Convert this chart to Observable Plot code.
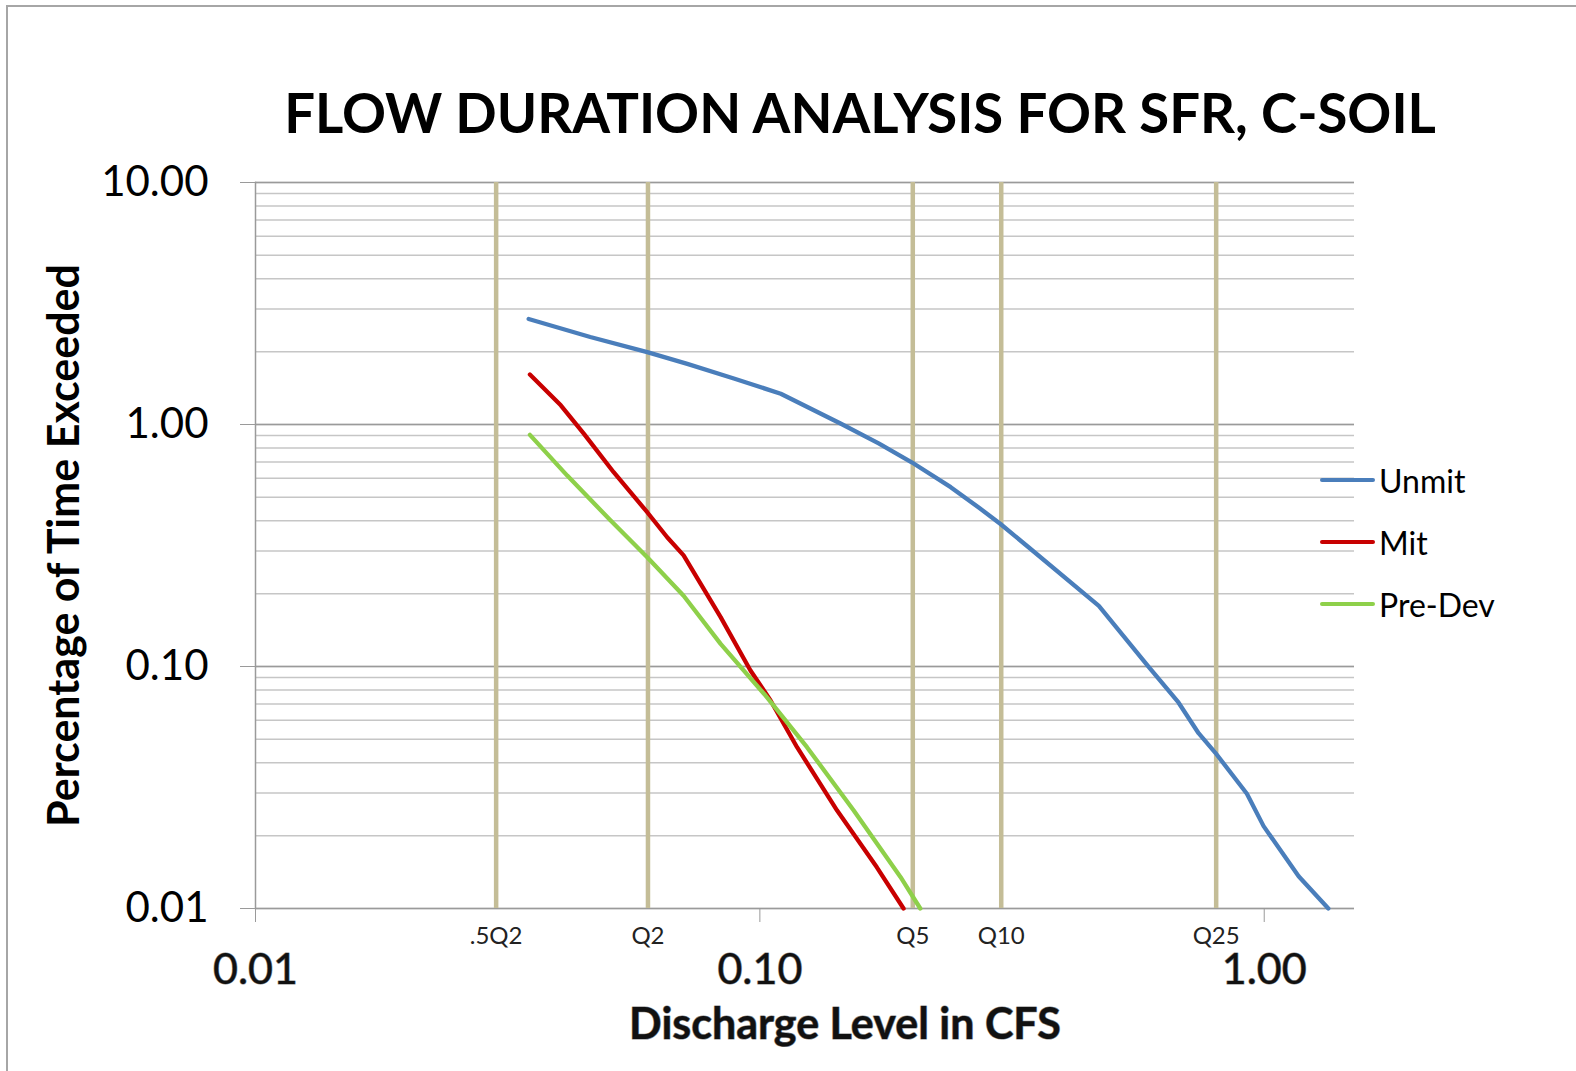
<!DOCTYPE html>
<html><head><meta charset="utf-8">
<script src="https://cdn.jsdelivr.net/npm/d3@7"></script>
<script src="https://cdn.jsdelivr.net/npm/@observablehq/plot@0.6"></script>
<style>
html,body{margin:0;padding:0;background:#fff;}
body{width:1576px;height:1071px;position:relative;overflow:hidden;font-family:Lato,sans-serif;}
#bt{position:absolute;left:6px;top:5px;right:0;height:2px;background:#a6a6a6;}
#bl{position:absolute;left:6px;top:5px;bottom:0;width:2px;background:#a6a6a6;}
#title{position:absolute;top:84px;left:860px;transform:translateX(-50%);white-space:nowrap;font:700 54.5px/56px Lato,sans-serif;color:#000;}
#chart{position:absolute;left:0;top:150px;}
#legend{position:absolute;left:1320px;top:449px;}
.row{display:flex;align-items:center;height:62px;}
.sw{width:55px;height:4.5px;border-radius:2px;margin-right:4px;}
.lab{font:400 32px Lato,sans-serif;color:#000;white-space:nowrap;}
</style></head>
<body>
<div id="bt"></div><div id="bl"></div>
<div id="title"></div>
<div id="chart"></div>
<div id="legend"></div>
<script>
const titleText = "FLOW DURATION ANALYSIS FOR SFR, C-SOIL";
const xLabel = "Discharge Level in CFS";
const yLabel = "Percentage of Time Exceeded";
const seriesNames = ["Unmit", "Mit", "Pre-Dev"];
const seriesColors = ["#4A7EBB", "#C80000", "#8ED04A"];

const unmitX = [0.0348, 0.0461, 0.0598, 0.0718, 0.0888, 0.110, 0.1445, 0.172, 0.200, 0.239, 0.272, 0.300, 0.341, 0.470, 0.590, 0.676, 0.741, 0.800, 0.924, 0.997, 1.17, 1.34];
const unmitY = [2.73, 2.30, 1.99, 1.78, 1.55, 1.34, 1.01, 0.835, 0.698, 0.551, 0.453, 0.388, 0.311, 0.178, 0.0997, 0.071, 0.053, 0.044, 0.0298, 0.0219, 0.0136, 0.0100];

const mitX = [0.035, 0.0403, 0.0448, 0.0513, 0.0598, 0.0655, 0.0706, 0.0836, 0.0958, 0.105, 0.1185, 0.1423, 0.1706, 0.1927];
const mitY = [1.61, 1.20, 0.915, 0.635, 0.434, 0.342, 0.288, 0.160, 0.0962, 0.0724, 0.0464, 0.0254, 0.0148, 0.0100];

const preDevX = [0.035, 0.0415, 0.0506, 0.0598, 0.0706, 0.0836, 0.102, 0.124, 0.1535, 0.190, 0.208];
const preDevY = [0.906, 0.615, 0.401, 0.283, 0.196, 0.124, 0.077, 0.0464, 0.0254, 0.0135, 0.0100];

const qLabels = [".5Q2", "Q2", "Q5", "Q10", "Q25"];
const qValues = [0.030, 0.060, 0.201, 0.301, 0.803];

const xTicks = [0.01, 0.1, 1];
const yTicks = [0.01, 0.1, 1, 10];

const rows = [];
function addSeries(name, xs, ys) { xs.forEach((x, i) => rows.push({series: name, x, y: ys[i]})); }
addSeries("Unmit", unmitX, unmitY);
addSeries("Mit", mitX, mitY);
addSeries("Pre-Dev", preDevX, preDevY);

document.getElementById("title").textContent = titleText;

const fmt = d3.format(".2f");
const chart = Plot.plot({
  width: 1576, height: 921,
  marginTop: 32, marginBottom: 163, marginLeft: 255, marginRight: 222,
  style: {fontFamily: "Lato, sans-serif", fontSize: "42px", background: "transparent", overflow: "visible", color: "#000"},
  x: {type: "log", domain: [0.01, 1.51], label: null},
  y: {type: "log", domain: [0.01, 10], label: null},
  color: {domain: seriesNames, range: seriesColors},
  marks: [
    Plot.gridY({stroke: "#c6c6c6", strokeOpacity: 1, strokeWidth: 1.5}),
    Plot.ruleY(yTicks, {stroke: "#9a9a9a", strokeWidth: 1.5}),
    Plot.frame({anchor: "left", stroke: "#9a9a9a", strokeWidth: 1.5}),
    Plot.ruleX(qValues, {stroke: "#C4BD97", strokeWidth: 4.5}),
    Plot.line(rows, {x: "x", y: "y", z: "series", stroke: "series", strokeWidth: 4.3, strokeLinejoin: "round", strokeLinecap: "round"}),
    Plot.axisY({ticks: yTicks, tickFormat: fmt, tickSize: 15, tickPadding: 32, stroke: "#9a9a9a", fill: "#000", fontSize: 42, label: null}),
    Plot.axisX({ticks: xTicks, tickFormat: () => "", tickSize: 14, stroke: "#9a9a9a", label: null}),
    Plot.text(xTicks, {x: d => d, frameAnchor: "bottom", lineAnchor: "middle", dy: 62, text: d => fmt(d), fontSize: 43, fill: "#111", stroke: "#8a8a8a", strokeWidth: 1.2, paintOrder: "stroke"}),
    Plot.text(qValues, {x: d => d, frameAnchor: "bottom", lineAnchor: "middle", dy: 28, text: (d, i) => qLabels[i], fontSize: 24, fill: "#222"}),
    Plot.text([xLabel], {frameAnchor: "bottom", lineAnchor: "middle", textAnchor: "middle", dx: 40, dy: 117, text: d => d, fontSize: 43, fontWeight: "bold", fill: "#111", stroke: "#8a8a8a", strokeWidth: 1.2, paintOrder: "stroke"}),
    Plot.text([yLabel], {frameAnchor: "left", lineAnchor: "middle", textAnchor: "middle", dx: -190, rotate: -90, text: d => d, fontSize: 43, fontWeight: "bold", fill: "#000"})
  ]
});
document.getElementById("chart").appendChild(chart);

const legend = document.getElementById("legend");
seriesNames.forEach((name, i) => {
  const row = document.createElement("div");
  row.className = "row";
  const sw = document.createElement("div");
  sw.className = "sw";
  sw.style.background = seriesColors[i];
  const lab = document.createElement("div");
  lab.className = "lab";
  lab.textContent = name;
  row.appendChild(sw); row.appendChild(lab);
  legend.appendChild(row);
});
</script>
</body></html>
